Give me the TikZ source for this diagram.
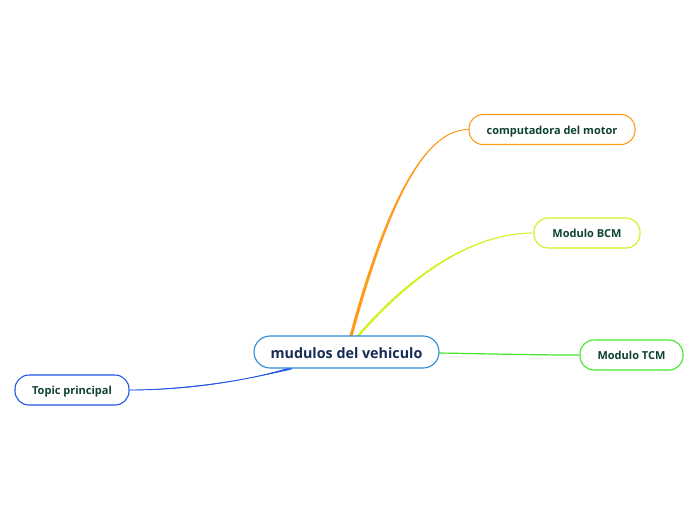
\documentclass[tikz,border=0pt]{standalone}
\usepackage{fontspec}
\setmainfont{Open Sans}
\definecolor{cblue}{HTML}{2B8AD6}
\definecolor{corange}{HTML}{FF9A1A}
\definecolor{cyel}{HTML}{D2F01E}
\definecolor{cgreen}{HTML}{44E62A}
\definecolor{ctopic}{HTML}{1F55E8}
\definecolor{ctext}{HTML}{0F4233}
\definecolor{cmain}{HTML}{172B55}
\tikzset{
  child/.style={draw, rounded corners=14pt, line width=1.1pt, fill=white, text=ctext,
    font=\bfseries\fontsize{11}{13}\selectfont, minimum height=30pt, inner xsep=17pt,
    text height=9pt, text depth=0pt},
  mainbox/.style={draw=cblue, rounded corners=16pt, line width=1.1pt, fill=white, text=cmain,
    font=\bfseries\fontsize{14.3}{16}\selectfont, minimum height=32pt, minimum width=185pt,
    text height=13pt, text depth=0pt}
}
\begin{document}
\begin{tikzpicture}[x=1pt,y=-1pt]
\useasboundingbox (0,0) rectangle (696,520);
\coordinate (oS) at (351,336);
\coordinate (yS) at (358,336);
\coordinate (gS) at (439,353);
\coordinate (bS) at (292,368);
\node[child, draw=corange, minimum width=166pt] (comp) at (552,129.5) {computadora del motor};
\node[child, draw=cyel, minimum width=106pt] (bcm) at (587,233) {Modulo BCM};
\node[child, draw=cgreen, minimum width=103pt] (tcm) at (631.5,355) {Modulo TCM};
\node[child, draw=ctopic, minimum width=114pt] (topic) at (72,390) {Topic principal};
% tapered connectors
\fill[corange] ([xshift=-1.6pt]oS) .. controls (390.4,185) and (430,129) .. (comp.west)
  .. controls (430,130) and (393.6,185) .. ([xshift=1.6pt]oS) -- cycle;
\draw[corange, line width=0.9pt] (oS) .. controls (392,185) and (430,129.5) .. (comp.west);
\fill[cyel] ([xshift=-1.5pt]yS) .. controls (419,264) and (480,232.6) .. (bcm.west)
  .. controls (480,233.4) and (421,266) .. ([xshift=1.5pt]yS) -- cycle;
\draw[cyel, line width=0.9pt] (yS) .. controls (420,265) and (480,233) .. (bcm.west);
\draw[cgreen, line width=1.2pt] (gS) .. controls (500,354) and (530,355) .. (tcm.west);
\fill[ctopic] ([yshift=-1.3pt]bS) .. controls (230,383.8) and (170,389.6) .. (topic.east)
  .. controls (170,390.4) and (230,386.2) .. ([yshift=1.3pt]bS) -- cycle;
\draw[ctopic, line width=0.9pt] (bS) .. controls (230,385) and (170,390) .. (topic.east);
\node[mainbox] (main) at (346.5,352) {mudulos del vehiculo};
\end{tikzpicture}
\end{document}
